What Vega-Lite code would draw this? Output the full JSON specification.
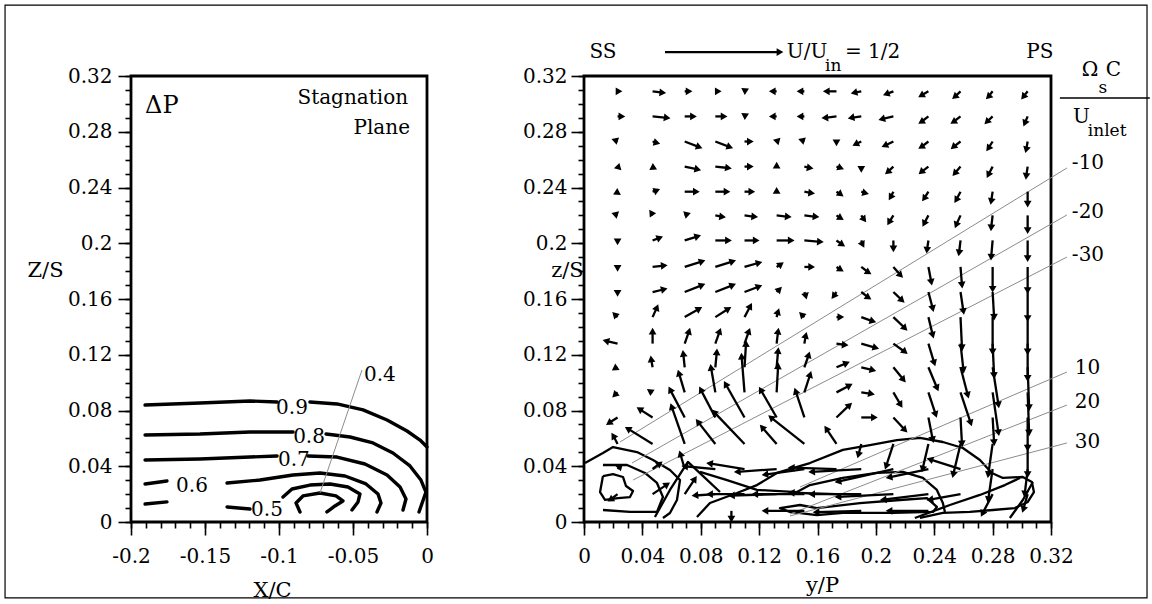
{
"$schema": "https://vega.github.io/schema/vega-lite/v6.json",
"autosize": {"type": "none"},
"padding": {"left": 131, "top": 76, "right": 1021, "bottom": 528},
"background": "white",
"bounds": "flush",
"spacing": 157,
"config": {
  "view": {"stroke": "black", "strokeWidth": 2.8},
  "axis": {"domain": false, "grid": false, "tickColor": "black", "tickWidth": 1.6, "labelFont": "DejaVu Serif", "labelFontSize": 20, "labelColor": "black", "titleFont": "DejaVu Serif", "titleFontSize": 21, "titleFontWeight": "normal", "titleColor": "black", "labelFlush": false, "labelOverlap": false},
  "text": {"font": "DejaVu Serif", "color": "black", "baseline": "middle"}
},
"datasets": {
  "leftContours": [
    {"seg":"9a","i":1,"x":-0.1905,"z":0.0839},{"seg":"9a","i":2,"x":-0.1534,"z":0.0854},{"seg":"9a","i":3,"x":-0.1196,"z":0.0868},{"seg":"9a","i":4,"x":-0.1013,"z":0.0861},
    {"seg":"9b","i":1,"x":-0.0791,"z":0.0861},{"seg":"9b","i":2,"x":-0.0608,"z":0.0847},{"seg":"9b","i":3,"x":-0.0432,"z":0.0804},{"seg":"9b","i":4,"x":-0.027,"z":0.0732},{"seg":"9b","i":5,"x":-0.0135,"z":0.0653},{"seg":"9b","i":6,"x":-0.0047,"z":0.0588},{"seg":"9b","i":7,"x":0,"z":0.0538},
    {"seg":"8a","i":1,"x":-0.1905,"z":0.0624},{"seg":"8a","i":2,"x":-0.1534,"z":0.0631},{"seg":"8a","i":3,"x":-0.1196,"z":0.0646},{"seg":"8a","i":4,"x":-0.0905,"z":0.0646},
    {"seg":"8b","i":1,"x":-0.0682,"z":0.0631},{"seg":"8b","i":2,"x":-0.052,"z":0.061},{"seg":"8b","i":3,"x":-0.0365,"z":0.0567},{"seg":"8b","i":4,"x":-0.023,"z":0.0495},{"seg":"8b","i":5,"x":-0.0115,"z":0.0402},{"seg":"8b","i":6,"x":-0.0041,"z":0.0301},{"seg":"8b","i":7,"x":-0.0007,"z":0.0215},{"seg":"8b","i":8,"x":-0.0054,"z":0.0072},
    {"seg":"7a","i":1,"x":-0.1905,"z":0.0445},{"seg":"7a","i":2,"x":-0.1534,"z":0.0452},{"seg":"7a","i":3,"x":-0.1196,"z":0.0466},{"seg":"7a","i":4,"x":-0.1013,"z":0.0474},
    {"seg":"7b","i":1,"x":-0.0804,"z":0.0474},{"seg":"7b","i":2,"x":-0.0608,"z":0.0466},{"seg":"7b","i":3,"x":-0.0419,"z":0.0416},{"seg":"7b","i":4,"x":-0.027,"z":0.0337},{"seg":"7b","i":5,"x":-0.0182,"z":0.0251},{"seg":"7b","i":6,"x":-0.0142,"z":0.0165},{"seg":"7b","i":7,"x":-0.0162,"z":0.0086},
    {"seg":"6a","i":1,"x":-0.1905,"z":0.0273},{"seg":"6a","i":2,"x":-0.1757,"z":0.0294},
    {"seg":"6b","i":1,"x":-0.1351,"z":0.028},{"seg":"6b","i":2,"x":-0.1128,"z":0.0301},{"seg":"6b","i":3,"x":-0.0905,"z":0.0337},{"seg":"6b","i":4,"x":-0.0723,"z":0.0352},{"seg":"6b","i":5,"x":-0.0554,"z":0.033},{"seg":"6b","i":6,"x":-0.0412,"z":0.0273},{"seg":"6b","i":7,"x":-0.0331,"z":0.0201},{"seg":"6b","i":8,"x":-0.0311,"z":0.0136},{"seg":"6b","i":9,"x":-0.0338,"z":0.0072},
    {"seg":"5a","i":1,"x":-0.1905,"z":0.0129},{"seg":"5a","i":2,"x":-0.1757,"z":0.0144},
    {"seg":"5b","i":1,"x":-0.1351,"z":0.0108},{"seg":"5b","i":2,"x":-0.1196,"z":0.0093},
    {"seg":"5c","i":1,"x":-0.0973,"z":0.0179},{"seg":"5c","i":2,"x":-0.0912,"z":0.0237},{"seg":"5c","i":3,"x":-0.0791,"z":0.0265},{"seg":"5c","i":4,"x":-0.0655,"z":0.0273},{"seg":"5c","i":5,"x":-0.0534,"z":0.0251},{"seg":"5c","i":6,"x":-0.0453,"z":0.0201},{"seg":"5c","i":7,"x":-0.0466,"z":0.0144},{"seg":"5c","i":8,"x":-0.0507,"z":0.0086},
    {"seg":"4","i":1,"x":-0.0858,"z":0.0072},{"seg":"4","i":2,"x":-0.0885,"z":0.0136},{"seg":"4","i":3,"x":-0.0838,"z":0.0187},{"seg":"4","i":4,"x":-0.0723,"z":0.0208},{"seg":"4","i":5,"x":-0.0615,"z":0.0187},{"seg":"4","i":6,"x":-0.0568,"z":0.0151},{"seg":"4","i":7,"x":-0.0622,"z":0.0115},{"seg":"4","i":8,"x":-0.0676,"z":0.0072}
  ],
  "leftLabels": [
    {"t":"0.9","x":-0.0912,"z":0.0818},{"t":"0.8","x":-0.0797,"z":0.061},{"t":"0.7","x":-0.0899,"z":0.0445},{"t":"0.6","x":-0.1588,"z":0.0258},{"t":"0.5","x":-0.1081,"z":0.0086},{"t":"0.4","x":-0.0318,"z":0.1055}
  ],
  "rightContours": [
    {"seg":"c1","i":1,"y":0.0774,"z":0.0036},{"seg":"c1","i":2,"y":0.0863,"z":0.0136},{"seg":"c1","i":3,"y":0.1048,"z":0.0208},{"seg":"c1","i":4,"y":0.1185,"z":0.0265},{"seg":"c1","i":5,"y":0.1322,"z":0.0352},{"seg":"c1","i":6,"y":0.1548,"z":0.0423},{"seg":"c1","i":7,"y":0.1774,"z":0.0517},{"seg":"c1","i":8,"y":0.1959,"z":0.0552},{"seg":"c1","i":9,"y":0.2144,"z":0.0588},{"seg":"c1","i":10,"y":0.2302,"z":0.0603},{"seg":"c1","i":11,"y":0.2459,"z":0.0574},{"seg":"c1","i":12,"y":0.2596,"z":0.0531},{"seg":"c1","i":13,"y":0.2713,"z":0.0445},{"seg":"c1","i":14,"y":0.2795,"z":0.0352},{"seg":"c1","i":15,"y":0.287,"z":0.0316},{"seg":"c1","i":16,"y":0.3007,"z":0.0323},{"seg":"c1","i":17,"y":0.3069,"z":0.0287},{"seg":"c1","i":18,"y":0.3083,"z":0.0215},{"seg":"c1","i":19,"y":0.3041,"z":0.0144},{"seg":"c1","i":20,"y":0.2952,"z":0.01},{"seg":"c1","i":21,"y":0.2802,"z":0.0086},{"seg":"c1","i":22,"y":0.2644,"z":0.0072},{"seg":"c1","i":23,"y":0.2459,"z":0.0065},{"seg":"c1","i":24,"y":0.2302,"z":0.0029},
    {"seg":"c2","i":1,"y":0.0007,"z":0.0423},{"seg":"c2","i":2,"y":0.013,"z":0.0495},{"seg":"c2","i":3,"y":0.0199,"z":0.0538},{"seg":"c2","i":4,"y":0.0363,"z":0.0502},{"seg":"c2","i":5,"y":0.0473,"z":0.0445},{"seg":"c2","i":6,"y":0.0589,"z":0.0373},{"seg":"c2","i":7,"y":0.0658,"z":0.0301},{"seg":"c2","i":8,"y":0.0637,"z":0.0158},{"seg":"c2","i":9,"y":0.0589,"z":0.0065},{"seg":"c2","i":10,"y":0.0541,"z":0.0029},
    {"seg":"c3","i":1,"y":0.013,"z":0.033},{"seg":"c3","i":2,"y":0.0199,"z":0.0344},{"seg":"c3","i":3,"y":0.0267,"z":0.0323},{"seg":"c3","i":4,"y":0.0288,"z":0.0258},{"seg":"c3","i":5,"y":0.0336,"z":0.0222},{"seg":"c3","i":6,"y":0.0315,"z":0.0179},{"seg":"c3","i":7,"y":0.0233,"z":0.0172},{"seg":"c3","i":8,"y":0.0144,"z":0.0158},{"seg":"c3","i":9,"y":0.011,"z":0.0215},{"seg":"c3","i":10,"y":0.013,"z":0.033},
    {"seg":"c4","i":1,"y":0.013,"z":0.0409},{"seg":"c4","i":2,"y":0.0295,"z":0.0409},{"seg":"c4","i":3,"y":0.0418,"z":0.0352},{"seg":"c4","i":4,"y":0.05,"z":0.028},{"seg":"c4","i":5,"y":0.0541,"z":0.0179},{"seg":"c4","i":6,"y":0.05,"z":0.0072},{"seg":"c4","i":7,"y":0.0315,"z":0.0072},{"seg":"c4","i":8,"y":0.013,"z":0.0086},
    {"seg":"c5","i":1,"y":0.0795,"z":0.0359},{"seg":"c5","i":2,"y":0.098,"z":0.0301},{"seg":"c5","i":3,"y":0.1185,"z":0.023},{"seg":"c5","i":4,"y":0.1459,"z":0.0215},{"seg":"c5","i":5,"y":0.1548,"z":0.0265},{"seg":"c5","i":6,"y":0.1774,"z":0.0316},{"seg":"c5","i":7,"y":0.2007,"z":0.0352},{"seg":"c5","i":8,"y":0.2185,"z":0.0359},{"seg":"c5","i":9,"y":0.2322,"z":0.0316},{"seg":"c5","i":10,"y":0.2418,"z":0.023},{"seg":"c5","i":11,"y":0.2459,"z":0.0136},{"seg":"c5","i":12,"y":0.2473,"z":0.0072},
    {"seg":"c6","i":1,"y":0.1596,"z":0.01},{"seg":"c6","i":2,"y":0.1891,"z":0.0136},{"seg":"c6","i":3,"y":0.2165,"z":0.0158},{"seg":"c6","i":4,"y":0.235,"z":0.0172},{"seg":"c6","i":5,"y":0.2418,"z":0.0108},{"seg":"c6","i":6,"y":0.2391,"z":0.0072},{"seg":"c6","i":7,"y":0.2117,"z":0.0065},{"seg":"c6","i":8,"y":0.1774,"z":0.0065},{"seg":"c6","i":9,"y":0.1596,"z":0.005},{"seg":"c6","i":10,"y":0.1411,"z":0.0072},{"seg":"c6","i":11,"y":0.1343,"z":0.01},{"seg":"c6","i":12,"y":0.148,"z":0.0122},{"seg":"c6","i":13,"y":0.1596,"z":0.01},
    {"seg":"c7","i":1,"y":0.0486,"z":0.0036},{"seg":"c7","i":2,"y":0.0589,"z":0.023},{"seg":"c7","i":3,"y":0.0712,"z":0.0431},{"seg":"c7","i":4,"y":0.0829,"z":0.0316},{"seg":"c7","i":5,"y":0.0932,"z":0.0215},
    {"seg":"c8","i":1,"y":0.2267,"z":0.0029},{"seg":"c8","i":2,"y":0.2507,"z":0.0122},{"seg":"c8","i":3,"y":0.2713,"z":0.0194},{"seg":"c8","i":4,"y":0.2884,"z":0.0265},{"seg":"c8","i":5,"y":0.2987,"z":0.0316},
    {"seg":"c9","i":1,"y":0.2918,"z":0.0029},{"seg":"c9","i":2,"y":0.3007,"z":0.0158},{"seg":"c9","i":3,"y":0.3076,"z":0.0287}
  ],
  "rightGrey": [
    {"y0":0.0247,"z0":0.0574,"y1":0.3309,"z1":0.254},
    {"y0":0.0329,"z0":0.0423,"y1":0.3309,"z1":0.2203},
    {"y0":0.0336,"z0":0.0301,"y1":0.3309,"z1":0.1901},
    {"y0":0.148,"z0":0.0251,"y1":0.3309,"z1":0.1076},
    {"y0":0.1411,"z0":0.0057,"y1":0.3309,"z1":0.0839},
    {"y0":0.1411,"z0":0.0043,"y1":0.3309,"z1":0.0567}
  ],
  "rightTextLeft": [
    {"t":"U/U","y":0.139,"z":0.3372},{"t":"= 1/2","y":0.1788,"z":0.3372},{"t":"Ω","y":0.3411,"z":0.3243},{"t":"C","y":0.3575,"z":0.3243},{"t":"U","y":0.335,"z":0.2906},
    {"t":"-10","y":0.3343,"z":0.2576},{"t":"-20","y":0.3343,"z":0.2224},{"t":"-30","y":0.3343,"z":0.1916},{"t":"10","y":0.3363,"z":0.1105},{"t":"20","y":0.3363,"z":0.0861},{"t":"30","y":0.3363,"z":0.0574}
  ],
  "rightTextSub": [
    {"t":"in","y":0.1651,"z":0.3272},{"t":"s","y":0.3525,"z":0.3114},{"t":"inlet","y":0.3452,"z":0.2805}
  ],
  "rightTextCenter": [
    {"t":"SS","y":0.013,"z":0.3372},{"t":"PS","y":0.3124,"z":0.3372}
  ],
  "arrows": [
    {"y0":0.0555,"z0":0.3372,"y1":0.1343,"z1":0.3372,"dir":90},
    {"y0":0.023,"z0":0.309,"y1":0.024,"z1":0.309,"dir":90},{"y0":0.047,"z0":0.309,"y1":0.054,"z1":0.308,"dir":96},{"y0":0.069,"z0":0.309,"y1":0.072,"z1":0.309,"dir":90},{"y0":0.09,"z0":0.309,"y1":0.092,"z1":0.309,"dir":90},{"y0":0.11,"z0":0.309,"y1":0.111,"z1":0.31,"dir":63},{"y0":0.132,"z0":0.309,"y1":0.129,"z1":0.309,"dir":270},{"y0":0.151,"z0":0.309,"y1":0.148,"z1":0.309,"dir":270},{"y0":0.173,"z0":0.309,"y1":0.166,"z1":0.309,"dir":270},{"y0":0.19,"z0":0.309,"y1":0.185,"z1":0.308,"dir":256},{"y0":0.212,"z0":0.309,"y1":0.207,"z1":0.307,"dir":249},{"y0":0.236,"z0":0.309,"y1":0.231,"z1":0.306,"dir":240},{"y0":0.258,"z0":0.309,"y1":0.254,"z1":0.305,"dir":230},{"y0":0.28,"z0":0.309,"y1":0.277,"z1":0.305,"dir":225},{"y0":0.304,"z0":0.309,"y1":0.301,"z1":0.305,"dir":219},
    {"y0":0.023,"z0":0.291,"y1":0.026,"z1":0.291,"dir":90},{"y0":0.047,"z0":0.291,"y1":0.057,"z1":0.29,"dir":98},{"y0":0.069,"z0":0.291,"y1":0.075,"z1":0.291,"dir":90},{"y0":0.09,"z0":0.291,"y1":0.096,"z1":0.291,"dir":90},{"y0":0.11,"z0":0.291,"y1":0.111,"z1":0.292,"dir":63},{"y0":0.132,"z0":0.291,"y1":0.129,"z1":0.291,"dir":270},{"y0":0.151,"z0":0.291,"y1":0.148,"z1":0.291,"dir":270},{"y0":0.173,"z0":0.291,"y1":0.165,"z1":0.29,"dir":265},{"y0":0.19,"z0":0.291,"y1":0.183,"z1":0.29,"dir":259},{"y0":0.212,"z0":0.291,"y1":0.204,"z1":0.289,"dir":255},{"y0":0.236,"z0":0.291,"y1":0.231,"z1":0.287,"dir":238},{"y0":0.258,"z0":0.291,"y1":0.253,"z1":0.287,"dir":238},{"y0":0.28,"z0":0.291,"y1":0.276,"z1":0.287,"dir":225},{"y0":0.304,"z0":0.291,"y1":0.302,"z1":0.286,"dir":203},
    {"y0":0.023,"z0":0.273,"y1":0.021,"z1":0.274,"dir":288},{"y0":0.047,"z0":0.273,"y1":0.05,"z1":0.272,"dir":104},{"y0":0.069,"z0":0.273,"y1":0.079,"z1":0.269,"dir":110},{"y0":0.09,"z0":0.273,"y1":0.1,"z1":0.269,"dir":110},{"y0":0.11,"z0":0.273,"y1":0.114,"z1":0.273,"dir":90},{"y0":0.132,"z0":0.273,"y1":0.133,"z1":0.274,"dir":45},{"y0":0.151,"z0":0.273,"y1":0.149,"z1":0.274,"dir":288},{"y0":0.173,"z0":0.273,"y1":0.173,"z1":0.272,"dir":180},{"y0":0.19,"z0":0.273,"y1":0.186,"z1":0.271,"dir":243},{"y0":0.212,"z0":0.273,"y1":0.206,"z1":0.27,"dir":246},{"y0":0.236,"z0":0.273,"y1":0.231,"z1":0.269,"dir":238},{"y0":0.258,"z0":0.273,"y1":0.253,"z1":0.269,"dir":229},{"y0":0.28,"z0":0.273,"y1":0.277,"z1":0.268,"dir":216},{"y0":0.304,"z0":0.273,"y1":0.303,"z1":0.267,"dir":194},
    {"y0":0.023,"z0":0.255,"y1":0.024,"z1":0.254,"dir":135},{"y0":0.047,"z0":0.255,"y1":0.048,"z1":0.254,"dir":117},{"y0":0.069,"z0":0.255,"y1":0.078,"z1":0.253,"dir":103},{"y0":0.09,"z0":0.255,"y1":0.099,"z1":0.254,"dir":99},{"y0":0.11,"z0":0.255,"y1":0.114,"z1":0.255,"dir":90},{"y0":0.132,"z0":0.255,"y1":0.132,"z1":0.256,"dir":0},{"y0":0.151,"z0":0.255,"y1":0.155,"z1":0.254,"dir":100},{"y0":0.173,"z0":0.255,"y1":0.176,"z1":0.254,"dir":112},{"y0":0.19,"z0":0.255,"y1":0.19,"z1":0.253,"dir":180},{"y0":0.212,"z0":0.255,"y1":0.208,"z1":0.251,"dir":230},{"y0":0.236,"z0":0.255,"y1":0.231,"z1":0.251,"dir":229},{"y0":0.258,"z0":0.255,"y1":0.254,"z1":0.25,"dir":221},{"y0":0.28,"z0":0.255,"y1":0.277,"z1":0.249,"dir":207},{"y0":0.304,"z0":0.255,"y1":0.303,"z1":0.248,"dir":186},
    {"y0":0.023,"z0":0.237,"y1":0.022,"z1":0.236,"dir":243},{"y0":0.047,"z0":0.237,"y1":0.05,"z1":0.238,"dir":68},{"y0":0.069,"z0":0.237,"y1":0.077,"z1":0.237,"dir":90},{"y0":0.09,"z0":0.237,"y1":0.098,"z1":0.237,"dir":90},{"y0":0.11,"z0":0.237,"y1":0.115,"z1":0.237,"dir":90},{"y0":0.132,"z0":0.237,"y1":0.132,"z1":0.238,"dir":0},{"y0":0.151,"z0":0.237,"y1":0.156,"z1":0.236,"dir":97},{"y0":0.173,"z0":0.237,"y1":0.176,"z1":0.235,"dir":127},{"y0":0.19,"z0":0.237,"y1":0.193,"z1":0.236,"dir":104},{"y0":0.212,"z0":0.237,"y1":0.21,"z1":0.233,"dir":211},{"y0":0.236,"z0":0.237,"y1":0.233,"z1":0.232,"dir":216},{"y0":0.258,"z0":0.237,"y1":0.255,"z1":0.231,"dir":212},{"y0":0.28,"z0":0.237,"y1":0.279,"z1":0.23,"dir":191},{"y0":0.304,"z0":0.237,"y1":0.304,"z1":0.228,"dir":180},
    {"y0":0.023,"z0":0.22,"y1":0.021,"z1":0.221,"dir":288},{"y0":0.047,"z0":0.22,"y1":0.046,"z1":0.222,"dir":326},{"y0":0.069,"z0":0.22,"y1":0.071,"z1":0.221,"dir":72},{"y0":0.09,"z0":0.22,"y1":0.095,"z1":0.219,"dir":98},{"y0":0.11,"z0":0.22,"y1":0.117,"z1":0.219,"dir":96},{"y0":0.132,"z0":0.22,"y1":0.14,"z1":0.219,"dir":95},{"y0":0.151,"z0":0.22,"y1":0.159,"z1":0.219,"dir":95},{"y0":0.173,"z0":0.22,"y1":0.176,"z1":0.218,"dir":121},{"y0":0.19,"z0":0.22,"y1":0.192,"z1":0.217,"dir":143},{"y0":0.212,"z0":0.22,"y1":0.209,"z1":0.215,"dir":210},{"y0":0.236,"z0":0.22,"y1":0.233,"z1":0.214,"dir":207},{"y0":0.258,"z0":0.22,"y1":0.255,"z1":0.213,"dir":202},{"y0":0.28,"z0":0.22,"y1":0.279,"z1":0.211,"dir":184},{"y0":0.304,"z0":0.22,"y1":0.304,"z1":0.209,"dir":180},
    {"y0":0.023,"z0":0.202,"y1":0.023,"z1":0.201,"dir":180},{"y0":0.047,"z0":0.202,"y1":0.052,"z1":0.204,"dir":69},{"y0":0.069,"z0":0.202,"y1":0.078,"z1":0.205,"dir":73},{"y0":0.09,"z0":0.202,"y1":0.099,"z1":0.202,"dir":90},{"y0":0.11,"z0":0.202,"y1":0.118,"z1":0.202,"dir":90},{"y0":0.132,"z0":0.202,"y1":0.142,"z1":0.202,"dir":90},{"y0":0.151,"z0":0.202,"y1":0.162,"z1":0.201,"dir":94},{"y0":0.173,"z0":0.202,"y1":0.177,"z1":0.199,"dir":124},{"y0":0.19,"z0":0.202,"y1":0.191,"z1":0.199,"dir":153},{"y0":0.212,"z0":0.202,"y1":0.212,"z1":0.196,"dir":180},{"y0":0.236,"z0":0.202,"y1":0.235,"z1":0.195,"dir":186},{"y0":0.258,"z0":0.202,"y1":0.257,"z1":0.193,"dir":189},{"y0":0.28,"z0":0.202,"y1":0.279,"z1":0.19,"dir":183},{"y0":0.304,"z0":0.202,"y1":0.304,"z1":0.189,"dir":180},
    {"y0":0.023,"z0":0.183,"y1":0.023,"z1":0.182,"dir":180},{"y0":0.047,"z0":0.183,"y1":0.055,"z1":0.184,"dir":85},{"y0":0.069,"z0":0.183,"y1":0.081,"z1":0.187,"dir":71},{"y0":0.09,"z0":0.183,"y1":0.102,"z1":0.187,"dir":72},{"y0":0.11,"z0":0.183,"y1":0.12,"z1":0.186,"dir":75},{"y0":0.132,"z0":0.183,"y1":0.135,"z1":0.185,"dir":53},{"y0":0.151,"z0":0.183,"y1":0.156,"z1":0.183,"dir":90},{"y0":0.173,"z0":0.183,"y1":0.176,"z1":0.181,"dir":121},{"y0":0.19,"z0":0.183,"y1":0.195,"z1":0.179,"dir":122},{"y0":0.212,"z0":0.183,"y1":0.217,"z1":0.177,"dir":135},{"y0":0.236,"z0":0.183,"y1":0.238,"z1":0.172,"dir":169},{"y0":0.258,"z0":0.183,"y1":0.259,"z1":0.17,"dir":174},{"y0":0.28,"z0":0.183,"y1":0.28,"z1":0.167,"dir":180},{"y0":0.304,"z0":0.183,"y1":0.304,"z1":0.166,"dir":180},
    {"y0":0.023,"z0":0.165,"y1":0.023,"z1":0.164,"dir":180},{"y0":0.047,"z0":0.165,"y1":0.055,"z1":0.167,"dir":76},{"y0":0.069,"z0":0.165,"y1":0.081,"z1":0.17,"dir":69},{"y0":0.09,"z0":0.165,"y1":0.102,"z1":0.17,"dir":69},{"y0":0.11,"z0":0.165,"y1":0.12,"z1":0.169,"dir":68},{"y0":0.132,"z0":0.165,"y1":0.134,"z1":0.167,"dir":45},{"y0":0.151,"z0":0.165,"y1":0.152,"z1":0.162,"dir":166},{"y0":0.173,"z0":0.165,"y1":0.171,"z1":0.162,"dir":217},{"y0":0.19,"z0":0.165,"y1":0.195,"z1":0.161,"dir":122},{"y0":0.212,"z0":0.165,"y1":0.218,"z1":0.159,"dir":132},{"y0":0.236,"z0":0.165,"y1":0.239,"z1":0.153,"dir":167},{"y0":0.258,"z0":0.165,"y1":0.26,"z1":0.151,"dir":171},{"y0":0.28,"z0":0.165,"y1":0.281,"z1":0.147,"dir":178},{"y0":0.304,"z0":0.165,"y1":0.304,"z1":0.146,"dir":180},
    {"y0":0.023,"z0":0.147,"y1":0.021,"z1":0.149,"dir":315},{"y0":0.047,"z0":0.147,"y1":0.05,"z1":0.154,"dir":22},{"y0":0.069,"z0":0.147,"y1":0.079,"z1":0.153,"dir":60},{"y0":0.09,"z0":0.147,"y1":0.099,"z1":0.153,"dir":58},{"y0":0.11,"z0":0.147,"y1":0.114,"z1":0.155,"dir":29},{"y0":0.132,"z0":0.147,"y1":0.133,"z1":0.151,"dir":18},{"y0":0.151,"z0":0.147,"y1":0.149,"z1":0.149,"dir":315},{"y0":0.173,"z0":0.147,"y1":0.176,"z1":0.147,"dir":90},{"y0":0.19,"z0":0.147,"y1":0.198,"z1":0.144,"dir":108},{"y0":0.212,"z0":0.147,"y1":0.22,"z1":0.139,"dir":135},{"y0":0.236,"z0":0.147,"y1":0.239,"z1":0.134,"dir":164},{"y0":0.258,"z0":0.147,"y1":0.259,"z1":0.125,"dir":176},{"y0":0.28,"z0":0.147,"y1":0.28,"z1":0.122,"dir":180},{"y0":0.304,"z0":0.147,"y1":0.304,"z1":0.122,"dir":180},
    {"y0":0.023,"z0":0.128,"y1":0.015,"z1":0.13,"dir":285},{"y0":0.047,"z0":0.128,"y1":0.047,"z1":0.137,"dir":0},{"y0":0.069,"z0":0.128,"y1":0.072,"z1":0.137,"dir":17},{"y0":0.09,"z0":0.128,"y1":0.093,"z1":0.137,"dir":21},{"y0":0.11,"z0":0.128,"y1":0.113,"z1":0.137,"dir":21},{"y0":0.132,"z0":0.128,"y1":0.133,"z1":0.137,"dir":9},{"y0":0.151,"z0":0.128,"y1":0.152,"z1":0.134,"dir":14},{"y0":0.173,"z0":0.128,"y1":0.179,"z1":0.127,"dir":96},{"y0":0.19,"z0":0.128,"y1":0.2,"z1":0.125,"dir":106},{"y0":0.212,"z0":0.128,"y1":0.22,"z1":0.122,"dir":129},{"y0":0.236,"z0":0.128,"y1":0.24,"z1":0.114,"dir":162},{"y0":0.258,"z0":0.128,"y1":0.26,"z1":0.109,"dir":173},{"y0":0.28,"z0":0.128,"y1":0.281,"z1":0.105,"dir":176},{"y0":0.304,"z0":0.128,"y1":0.304,"z1":0.103,"dir":180},
    {"y0":0.023,"z0":0.111,"y1":0.021,"z1":0.11,"dir":236},{"y0":0.047,"z0":0.111,"y1":0.046,"z1":0.117,"dir":353},{"y0":0.069,"z0":0.111,"y1":0.068,"z1":0.121,"dir":352},{"y0":0.09,"z0":0.111,"y1":0.091,"z1":0.122,"dir":4},{"y0":0.11,"z0":0.111,"y1":0.111,"z1":0.128,"dir":2},{"y0":0.132,"z0":0.111,"y1":0.133,"z1":0.123,"dir":7},{"y0":0.151,"z0":0.111,"y1":0.154,"z1":0.12,"dir":17},{"y0":0.173,"z0":0.111,"y1":0.18,"z1":0.114,"dir":68},{"y0":0.19,"z0":0.111,"y1":0.198,"z1":0.109,"dir":105},{"y0":0.212,"z0":0.111,"y1":0.219,"z1":0.102,"dir":140},{"y0":0.236,"z0":0.111,"y1":0.242,"z1":0.096,"dir":157},{"y0":0.258,"z0":0.111,"y1":0.263,"z1":0.091,"dir":164},{"y0":0.28,"z0":0.111,"y1":0.284,"z1":0.084,"dir":171},{"y0":0.304,"z0":0.111,"y1":0.305,"z1":0.082,"dir":177},
    {"y0":0.023,"z0":0.093,"y1":0.021,"z1":0.091,"dir":225},{"y0":0.047,"z0":0.093,"y1":0.045,"z1":0.094,"dir":304},{"y0":0.069,"z0":0.093,"y1":0.065,"z1":0.107,"dir":343},{"y0":0.09,"z0":0.093,"y1":0.087,"z1":0.111,"dir":351},{"y0":0.11,"z0":0.093,"y1":0.108,"z1":0.119,"dir":355},{"y0":0.132,"z0":0.093,"y1":0.133,"z1":0.112,"dir":4},{"y0":0.151,"z0":0.093,"y1":0.155,"z1":0.106,"dir":18},{"y0":0.173,"z0":0.093,"y1":0.182,"z1":0.098,"dir":62},{"y0":0.19,"z0":0.093,"y1":0.197,"z1":0.092,"dir":101},{"y0":0.212,"z0":0.093,"y1":0.217,"z1":0.084,"dir":148},{"y0":0.236,"z0":0.093,"y1":0.241,"z1":0.077,"dir":161},{"y0":0.258,"z0":0.093,"y1":0.265,"z1":0.071,"dir":162},{"y0":0.28,"z0":0.093,"y1":0.284,"z1":0.064,"dir":171},{"y0":0.304,"z0":0.093,"y1":0.305,"z1":0.064,"dir":177},
    {"y0":0.023,"z0":0.075,"y1":0.017,"z1":0.071,"dir":236},{"y0":0.047,"z0":0.075,"y1":0.038,"z1":0.081,"dir":302},{"y0":0.069,"z0":0.075,"y1":0.059,"z1":0.095,"dir":333},{"y0":0.09,"z0":0.075,"y1":0.08,"z1":0.095,"dir":333},{"y0":0.11,"z0":0.075,"y1":0.097,"z1":0.099,"dir":331},{"y0":0.132,"z0":0.075,"y1":0.121,"z1":0.095,"dir":330},{"y0":0.151,"z0":0.075,"y1":0.145,"z1":0.094,"dir":341},{"y0":0.173,"z0":0.075,"y1":0.182,"z1":0.084,"dir":47},{"y0":0.19,"z0":0.075,"y1":0.199,"z1":0.075,"dir":90},{"y0":0.212,"z0":0.075,"y1":0.22,"z1":0.066,"dir":135},{"y0":0.236,"z0":0.075,"y1":0.239,"z1":0.059,"dir":167},{"y0":0.258,"z0":0.075,"y1":0.259,"z1":0.056,"dir":176},{"y0":0.28,"z0":0.075,"y1":0.281,"z1":0.057,"dir":175},{"y0":0.304,"z0":0.075,"y1":0.304,"z1":0.053,"dir":180},
    {"y0":0.023,"z0":0.056,"y1":0.02,"z1":0.062,"dir":328},{"y0":0.047,"z0":0.056,"y1":0.03,"z1":0.067,"dir":301},{"y0":0.069,"z0":0.056,"y1":0.06,"z1":0.083,"dir":341},{"y0":0.09,"z0":0.056,"y1":0.078,"z1":0.072,"dir":322},{"y0":0.11,"z0":0.056,"y1":0.089,"z1":0.079,"dir":317},{"y0":0.132,"z0":0.056,"y1":0.122,"z1":0.068,"dir":319},{"y0":0.151,"z0":0.056,"y1":0.128,"z1":0.075,"dir":309},{"y0":0.173,"z0":0.056,"y1":0.166,"z1":0.067,"dir":326},{"y0":0.19,"z0":0.056,"y1":0.188,"z1":0.048,"dir":195},{"y0":0.212,"z0":0.056,"y1":0.207,"z1":0.04,"dir":200},{"y0":0.236,"z0":0.056,"y1":0.232,"z1":0.038,"dir":193},{"y0":0.258,"z0":0.056,"y1":0.253,"z1":0.034,"dir":193},{"y0":0.28,"z0":0.056,"y1":0.277,"z1":0.034,"dir":189},{"y0":0.304,"z0":0.056,"y1":0.304,"z1":0.034,"dir":180},
    {"y0":0.023,"z0":0.038,"y1":0.025,"z1":0.04,"dir":45},{"y0":0.047,"z0":0.038,"y1":0.052,"z1":0.042,"dir":53},{"y0":0.069,"z0":0.038,"y1":0.066,"z1":0.049,"dir":342},{"y0":0.09,"z0":0.038,"y1":0.069,"z1":0.04,"dir":276},{"y0":0.11,"z0":0.038,"y1":0.086,"z1":0.042,"dir":278},{"y0":0.132,"z0":0.038,"y1":0.105,"z1":0.036,"dir":266},{"y0":0.151,"z0":0.038,"y1":0.124,"z1":0.034,"dir":263},{"y0":0.173,"z0":0.038,"y1":0.142,"z1":0.039,"dir":273},{"y0":0.19,"z0":0.038,"y1":0.156,"z1":0.036,"dir":267},{"y0":0.212,"z0":0.038,"y1":0.174,"z1":0.029,"dir":258},{"y0":0.236,"z0":0.038,"y1":0.209,"z1":0.032,"dir":259},{"y0":0.258,"z0":0.038,"y1":0.237,"z1":0.045,"dir":288},{"y0":0.28,"z0":0.038,"y1":0.277,"z1":0.016,"dir":189},{"y0":0.304,"z0":0.038,"y1":0.302,"z1":0.02,"dir":187},
    {"y0":0.023,"z0":0.02,"y1":0.018,"z1":0.016,"dir":238},{"y0":0.047,"z0":0.02,"y1":0.057,"z1":0.027,"dir":56},{"y0":0.069,"z0":0.02,"y1":0.076,"z1":0.031,"dir":34},{"y0":0.09,"z0":0.02,"y1":0.076,"z1":0.019,"dir":264},{"y0":0.11,"z0":0.02,"y1":0.086,"z1":0.02,"dir":270},{"y0":0.132,"z0":0.02,"y1":0.101,"z1":0.019,"dir":267},{"y0":0.151,"z0":0.02,"y1":0.117,"z1":0.02,"dir":270},{"y0":0.173,"z0":0.02,"y1":0.142,"z1":0.021,"dir":273},{"y0":0.19,"z0":0.02,"y1":0.156,"z1":0.02,"dir":270},{"y0":0.212,"z0":0.02,"y1":0.174,"z1":0.018,"dir":267},{"y0":0.236,"z0":0.02,"y1":0.205,"z1":0.016,"dir":264},{"y0":0.258,"z0":0.02,"y1":0.237,"z1":0.016,"dir":261},{"y0":0.28,"z0":0.02,"y1":0.273,"z1":0.006,"dir":207},{"y0":0.304,"z0":0.02,"y1":0.301,"z1":0.009,"dir":198},
    {"y0":0.101,"z0":0.008,"y1":0.101,"z1":0.002,"dir":180},{"y0":0.151,"z0":0.008,"y1":0.124,"z1":0.008,"dir":270},{"y0":0.19,"z0":0.008,"y1":0.159,"z1":0.007,"dir":269},{"y0":0.236,"z0":0.008,"y1":0.209,"z1":0.008,"dir":270}
  ]
},
"hconcat": [
  {
    "width": 296, "height": 446,
    "resolve": {"axis": {"x": "independent", "y": "independent"}},
    "layer": [
      {
        "data": {"values": [{}]},
        "mark": {"type": "rect", "filled": false, "color": "black", "strokeWidth": 1.2},
        "encoding": {
          "x": {"datum": -0.2851, "type": "quantitative", "scale": {"domain": [-0.2, 0], "nice": false, "zero": false}, "axis": null},
          "x2": {"datum": 0.4865},
          "y": {"datum": 0.3709, "type": "quantitative", "scale": {"domain": [0, 0.32], "nice": false, "zero": false}, "axis": null},
          "y2": {"datum": -0.0545}
        }
      },
      {
        "data": {"name": "leftContours"},
        "mark": {"type": "line", "color": "black", "strokeWidth": 3.4, "strokeCap": "round", "strokeJoin": "round"},
        "encoding": {
          "x": {"field": "x", "type": "quantitative", "scale": {"domain": [-0.2, 0], "nice": false, "zero": false},
                "axis": {"orient": "bottom", "values": [-0.2, -0.15, -0.1, -0.05, 0], "labelExpr": "'' + datum.value", "tickSize": 13, "labelPadding": 11, "title": "X/C", "titleX": 141, "titleY": 68, "titleAngle": 0, "titleAlign": "center", "titleBaseline": "middle"}},
          "y": {"field": "z", "type": "quantitative", "scale": {"domain": [0, 0.32], "nice": false, "zero": false},
                "axis": {"orient": "left", "values": [0, 0.04, 0.08, 0.12, 0.16, 0.2, 0.24, 0.28, 0.32], "labelExpr": "'' + datum.value", "tickSize": 13, "labelPadding": 6, "title": "Z/S", "titleX": -86, "titleY": 194, "titleAngle": 0, "titleAlign": "center", "titleBaseline": "middle"}},
          "detail": {"field": "seg", "type": "nominal"},
          "order": {"field": "i", "type": "quantitative"}
        }
      },
      {
        "data": {"name": "leftContours"},
        "mark": {"type": "point", "opacity": 0},
        "encoding": {
          "x": {"field": "x", "type": "quantitative", "scale": {"domain": [-0.2, 0], "nice": false, "zero": false},
                "axis": {"orient": "bottom", "values": [-0.2, -0.19, -0.18, -0.17, -0.16, -0.15, -0.14, -0.13, -0.12, -0.11, -0.1, -0.09, -0.08, -0.07, -0.06, -0.05, -0.04, -0.03, -0.02, -0.01, 0], "labels": false, "tickSize": 6, "title": null}},
          "y": {"field": "z", "type": "quantitative", "scale": {"domain": [0, 0.32], "nice": false, "zero": false},
                "axis": {"orient": "left", "values": [0, 0.01, 0.02, 0.03, 0.04, 0.05, 0.06, 0.07, 0.08, 0.09, 0.1, 0.11, 0.12, 0.13, 0.14, 0.15, 0.16, 0.17, 0.18, 0.19, 0.2, 0.21, 0.22, 0.23, 0.24, 0.25, 0.26, 0.27, 0.28, 0.29, 0.3, 0.31, 0.32], "labels": false, "tickSize": 6, "title": null}}
        }
      },
      {
        "data": {"values": [{"x0": -0.0723, "z0": 0.0208, "x1": -0.0439, "z1": 0.1091}]},
        "mark": {"type": "rule", "color": "#8c8c8c", "strokeWidth": 1},
        "encoding": {
          "x": {"field": "x0", "type": "quantitative", "scale": {"domain": [-0.2, 0], "nice": false, "zero": false}, "axis": null},
          "x2": {"field": "x1"},
          "y": {"field": "z0", "type": "quantitative", "scale": {"domain": [0, 0.32], "nice": false, "zero": false}, "axis": null},
          "y2": {"field": "z1"}
        }
      },
      {
        "data": {"name": "leftLabels"},
        "mark": {"type": "text", "align": "center", "fontSize": 20},
        "encoding": {
          "x": {"field": "x", "type": "quantitative", "scale": {"domain": [-0.2, 0], "nice": false, "zero": false}, "axis": null},
          "y": {"field": "z", "type": "quantitative", "scale": {"domain": [0, 0.32], "nice": false, "zero": false}, "axis": null},
          "text": {"field": "t"}
        }
      },
      {
        "data": {"values": [{"t": "ΔP", "x": -0.1905, "z": 0.2985}]},
        "mark": {"type": "text", "align": "left", "fontSize": 24},
        "encoding": {
          "x": {"field": "x", "type": "quantitative", "scale": {"domain": [-0.2, 0], "nice": false, "zero": false}, "axis": null},
          "y": {"field": "z", "type": "quantitative", "scale": {"domain": [0, 0.32], "nice": false, "zero": false}, "axis": null},
          "text": {"field": "t"}
        }
      },
      {
        "data": {"values": [{"t": "Stagnation", "x": -0.0128, "z": 0.3042}, {"t": "Plane", "x": -0.0115, "z": 0.2827}]},
        "mark": {"type": "text", "align": "right", "fontSize": 20},
        "encoding": {
          "x": {"field": "x", "type": "quantitative", "scale": {"domain": [-0.2, 0], "nice": false, "zero": false}, "axis": null},
          "y": {"field": "z", "type": "quantitative", "scale": {"domain": [0, 0.32], "nice": false, "zero": false}, "axis": null},
          "text": {"field": "t"}
        }
      }
    ]
  },
  {
    "width": 467, "height": 446,
    "resolve": {"axis": {"x": "independent", "y": "independent"}},
    "layer": [
      {
        "data": {"name": "rightContours"},
        "mark": {"type": "line", "color": "black", "strokeWidth": 2.3, "strokeJoin": "round"},
        "encoding": {
          "x": {"field": "y", "type": "quantitative", "scale": {"domain": [0, 0.32], "nice": false, "zero": false},
                "axis": {"orient": "bottom", "values": [0, 0.04, 0.08, 0.12, 0.16, 0.2, 0.24, 0.28, 0.32], "labelExpr": "'' + datum.value", "tickSize": 13, "labelPadding": 11, "title": "y/P", "titleX": 238, "titleY": 63, "titleAngle": 0, "titleAlign": "center", "titleBaseline": "middle"}},
          "y": {"field": "z", "type": "quantitative", "scale": {"domain": [0, 0.32], "nice": false, "zero": false},
                "axis": {"orient": "left", "values": [0, 0.04, 0.08, 0.12, 0.16, 0.2, 0.24, 0.28, 0.32], "labelExpr": "'' + datum.value", "tickSize": 13, "labelPadding": 4, "title": "z/S", "titleX": -17, "titleY": 194, "titleAngle": 0, "titleAlign": "center", "titleBaseline": "middle"}},
          "detail": {"field": "seg", "type": "nominal"},
          "order": {"field": "i", "type": "quantitative"}
        }
      },
      {
        "data": {"name": "rightContours"},
        "mark": {"type": "point", "opacity": 0},
        "encoding": {
          "x": {"field": "y", "type": "quantitative", "scale": {"domain": [0, 0.32], "nice": false, "zero": false},
                "axis": {"orient": "bottom", "values": [0, 0.01, 0.02, 0.03, 0.04, 0.05, 0.06, 0.07, 0.08, 0.09, 0.1, 0.11, 0.12, 0.13, 0.14, 0.15, 0.16, 0.17, 0.18, 0.19, 0.2, 0.21, 0.22, 0.23, 0.24, 0.25, 0.26, 0.27, 0.28, 0.29, 0.3, 0.31, 0.32], "labels": false, "tickSize": 6, "title": null}},
          "y": {"field": "z", "type": "quantitative", "scale": {"domain": [0, 0.32], "nice": false, "zero": false},
                "axis": {"orient": "left", "values": [0, 0.01, 0.02, 0.03, 0.04, 0.05, 0.06, 0.07, 0.08, 0.09, 0.1, 0.11, 0.12, 0.13, 0.14, 0.15, 0.16, 0.17, 0.18, 0.19, 0.2, 0.21, 0.22, 0.23, 0.24, 0.25, 0.26, 0.27, 0.28, 0.29, 0.3, 0.31, 0.32], "labels": false, "tickSize": 6, "title": null}}
        }
      },
      {
        "data": {"name": "rightGrey"},
        "mark": {"type": "rule", "color": "#8c8c8c", "strokeWidth": 1},
        "encoding": {
          "x": {"field": "y0", "type": "quantitative", "scale": {"domain": [0, 0.32], "nice": false, "zero": false}, "axis": null},
          "x2": {"field": "y1"},
          "y": {"field": "z0", "type": "quantitative", "scale": {"domain": [0, 0.32], "nice": false, "zero": false}, "axis": null},
          "y2": {"field": "z1"}
        }
      },
      {
        "data": {"name": "arrows"},
        "mark": {"type": "rule", "color": "black", "strokeWidth": 2.3},
        "encoding": {
          "x": {"field": "y0", "type": "quantitative", "scale": {"domain": [0, 0.32], "nice": false, "zero": false}, "axis": null},
          "x2": {"field": "y1"},
          "y": {"field": "z0", "type": "quantitative", "scale": {"domain": [0, 0.32], "nice": false, "zero": false}, "axis": null},
          "y2": {"field": "z1"}
        }
      },
      {
        "data": {"name": "arrows"},
        "mark": {"type": "point", "shape": "triangle-up", "filled": true, "color": "black", "size": 60, "opacity": 1, "strokeWidth": 0},
        "encoding": {
          "x": {"field": "y1", "type": "quantitative", "scale": {"domain": [0, 0.32], "nice": false, "zero": false}, "axis": null},
          "y": {"field": "z1", "type": "quantitative", "scale": {"domain": [0, 0.32], "nice": false, "zero": false}, "axis": null},
          "angle": {"field": "dir", "type": "quantitative", "scale": null}
        }
      },
      {
        "data": {"values": [{}]},
        "mark": {"type": "rule", "color": "black", "strokeWidth": 1.5},
        "encoding": {
          "x": {"datum": 0.3261, "type": "quantitative", "scale": {"domain": [0, 0.32], "nice": false, "zero": false}, "axis": null},
          "x2": {"datum": 0.3877},
          "y": {"datum": 0.3042, "type": "quantitative", "scale": {"domain": [0, 0.32], "nice": false, "zero": false}, "axis": null}
        }
      },
      {
        "data": {"name": "rightTextLeft"},
        "mark": {"type": "text", "align": "left", "fontSize": 20},
        "encoding": {
          "x": {"field": "y", "type": "quantitative", "scale": {"domain": [0, 0.32], "nice": false, "zero": false}, "axis": null},
          "y": {"field": "z", "type": "quantitative", "scale": {"domain": [0, 0.32], "nice": false, "zero": false}, "axis": null},
          "text": {"field": "t"}
        }
      },
      {
        "data": {"name": "rightTextSub"},
        "mark": {"type": "text", "align": "left", "fontSize": 17},
        "encoding": {
          "x": {"field": "y", "type": "quantitative", "scale": {"domain": [0, 0.32], "nice": false, "zero": false}, "axis": null},
          "y": {"field": "z", "type": "quantitative", "scale": {"domain": [0, 0.32], "nice": false, "zero": false}, "axis": null},
          "text": {"field": "t"}
        }
      },
      {
        "data": {"name": "rightTextCenter"},
        "mark": {"type": "text", "align": "center", "fontSize": 20},
        "encoding": {
          "x": {"field": "y", "type": "quantitative", "scale": {"domain": [0, 0.32], "nice": false, "zero": false}, "axis": null},
          "y": {"field": "z", "type": "quantitative", "scale": {"domain": [0, 0.32], "nice": false, "zero": false}, "axis": null},
          "text": {"field": "t"}
        }
      }
    ]
  }
]
}
